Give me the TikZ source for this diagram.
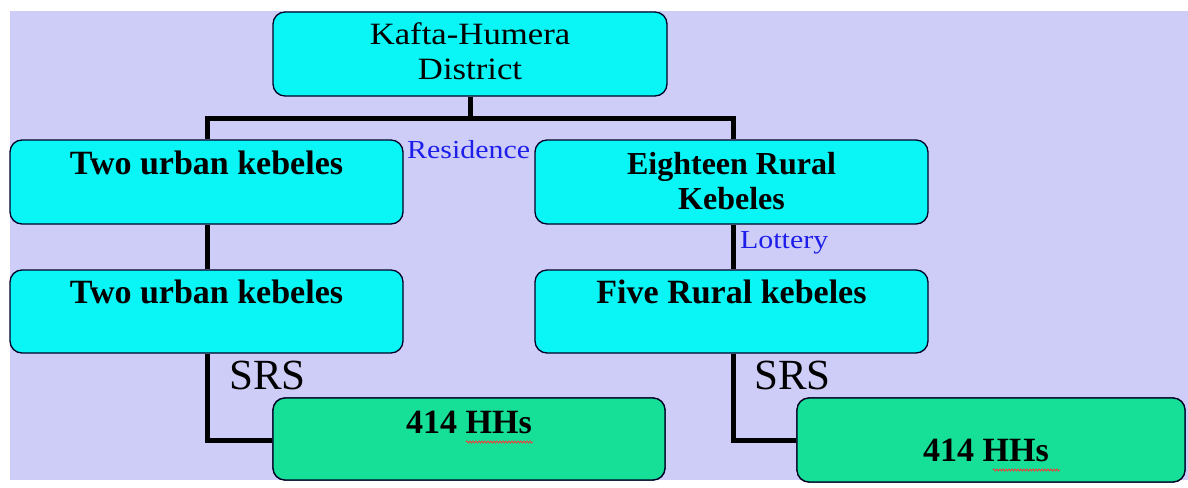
\documentclass[tikz,border=0pt]{standalone}
\usepackage{fontspec}
\usepackage{graphicx}
\setmainfont{Liberation Serif}
\usetikzlibrary{decorations.pathmorphing}
\definecolor{bgl}{RGB}{205,205,248}
\definecolor{cy}{RGB}{10,246,246}
\definecolor{gr}{RGB}{22,224,152}
\definecolor{lblue}{RGB}{30,30,235}
\tikzset{
  box/.style={draw=black!85!blue, line width=1.3pt, rounded corners=12pt, inner sep=0pt},
  cbox/.style={box, fill=cy},
  gbox/.style={box, fill=gr},
  conn/.style={line width=5pt, black},
  txt/.style={inner sep=0pt, anchor=base, font=\fontsize{31}{36}\selectfont},
  btxt/.style={txt, font=\fontsize{34}{40}\selectfont\bfseries},
  blab/.style={inner sep=0pt, anchor=base west, text=lblue, font=\fontsize{26}{30}\selectfont},
  srs/.style={inner sep=0pt, anchor=base west, font=\fontsize{43}{48}\selectfont},
  squig/.style={red!80, line width=0.8pt, decorate, decoration={snake, amplitude=1pt, segment length=3pt}}
}
\begin{document}
\begin{tikzpicture}[x=1pt,y=-1pt]
\useasboundingbox (0,0) rectangle (1188,487);
\fill[white] (0,0) rectangle (1188,487);
\fill[bgl] (10,11) rectangle (1188,480);
% boxes
\node[cbox, minimum width=394pt, minimum height=84pt] (top) at (470,54) {};
\node[cbox, minimum width=393pt, minimum height=84pt] (uk1) at (206.5,182) {};
\node[cbox, minimum width=393pt, minimum height=84pt] (er) at (731.5,182) {};
\node[cbox, minimum width=393pt, minimum height=83pt] (uk2) at (206.5,311.5) {};
\node[cbox, minimum width=393pt, minimum height=83pt] (fr) at (731.5,311.5) {};
% connectors
\coordinate (hl) at (207,118.5);
\coordinate (hr) at (733,118.5);
\draw[conn] (top.south) |- (hl) -- (hl |- uk1.north);
\draw[conn] (top.south) |- (hr) -- (hr |- er.north);
\draw[conn] (hl |- uk1.south) -- (hl |- uk2.north);
\draw[conn] (hr |- er.south) -- (hr |- fr.north);
\node[gbox, minimum width=392pt, minimum height=82pt] (hh1) at (469,439) {};
\node[gbox, minimum width=388pt, minimum height=84pt] (hh2) at (991,440) {};
\draw[conn] (hl |- uk2.south) |- (hh1.west |- 0,440);
\draw[conn] (hr |- fr.south) |- (hh2.west |- 0,440);
% redraw boxes on top of connector ends
\node[gbox, minimum width=392pt, minimum height=82pt] at (hh1) {};
\node[gbox, minimum width=388pt, minimum height=84pt] at (hh2) {};
% texts
\node[txt] (t1) at ([yshift=-33pt]top.north) {\scalebox{1.12}[1]{Kafta-Humera}};
\node[txt] (t2) at ([yshift=-68pt]top.north) {\scalebox{1.12}[1]{District}};
\node[btxt] (t3) at ([yshift=-35pt]uk1.north) {Two urban kebeles};
\node[btxt, font=\fontsize{32}{38}\selectfont\bfseries] (t4) at ([yshift=-35pt]er.north) {Eighteen Rural};
\node[btxt, font=\fontsize{32}{38}\selectfont\bfseries] (t5) at ([yshift=-70pt]er.north) {Kebeles};
\node[btxt] (t6) at ([yshift=-34pt]uk2.north) {Two urban kebeles};
\node[btxt] (t7) at ([yshift=-34pt]fr.north) {Five Rural kebeles};
\node[btxt] (t8) at ([yshift=-36pt]hh1.north) {414 HHs};
\node[btxt] (t9) at ([xshift=-5pt,yshift=-64pt]hh2.north) {414 HHs};
\node[blab] (res) at (407,158) {\scalebox{1.15}[1]{Residence}};
\node[blab] (lot) at (740,248) {\scalebox{1.15}[1]{Lottery}};
\node[srs] (s1) at (229,389) {SRS};
\node[srs] (s2) at (754,389) {SRS};
% spell-check underlines
\draw[squig] (466,442) -- (533,442);
\draw[squig] (993,470) -- (1060,470);
\end{tikzpicture}
\end{document}
